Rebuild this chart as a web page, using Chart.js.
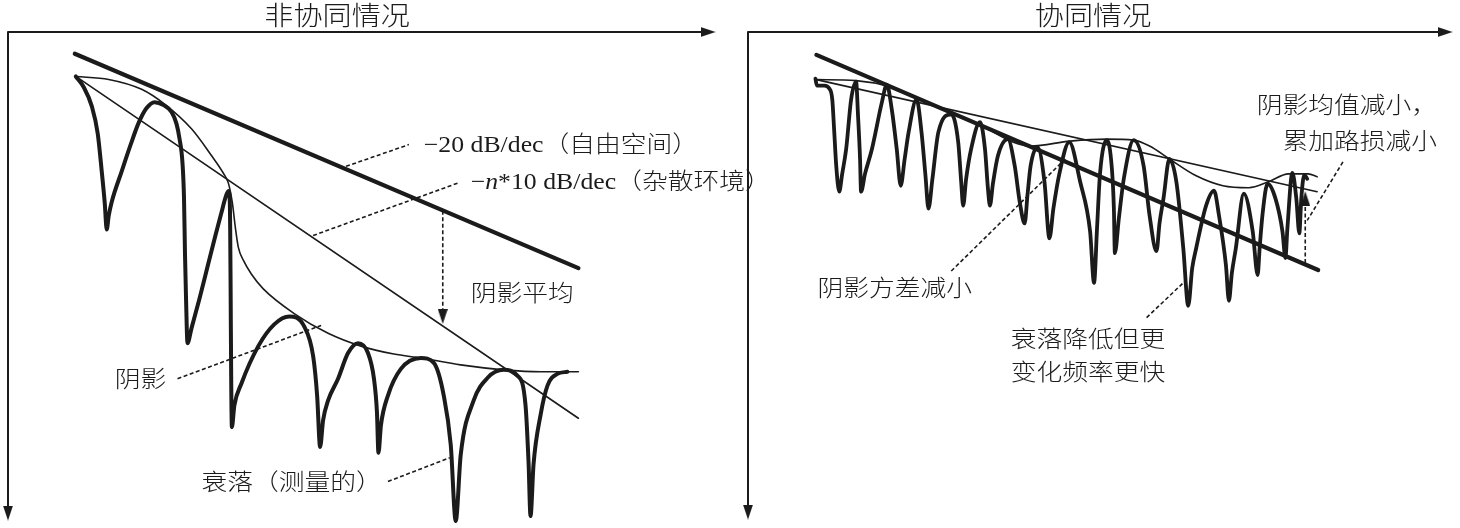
<!DOCTYPE html>
<html>
<head>
<meta charset="utf-8">
<script src="https://cdn.jsdelivr.net/npm/chart.js@4"></script>
<style>
  html, body { margin: 0; background: #fff; }
  #wrap { position: relative; width: 1460px; height: 528px; }
  #wrap canvas { position: absolute; left: 0; top: 0; }
</style>
</head>
<body>
<div id="wrap">
  <canvas id="left" width="1460" height="528"></canvas>
  <canvas id="right" width="1460" height="528"></canvas>
</div>
<script>
// Path loss sketch: x = log distance, y = path loss (grows downward). Arbitrary units.

// ---- left panel: 非协同情况 ----
const leftAxisX = [[0, 0], [702, 0]];
const leftAxisY = [[0, 0], [0, 487]];
const leftFreeSpace = [[67, 22], [572, 239]];          // -20 dB/dec
const leftClutter = [[68, 45], [572, 391]];            // -n*10 dB/dec
const leftShadow = [[68, 45], [101, 48], [134, 58], [157, 73], [184, 98], [204, 125], [216, 143], [221, 153],
  [225, 173], [228, 198], [231, 218], [236, 231], [244, 245], [256, 260], [287, 285], [321, 305], [354, 318],
  [387, 326], [414, 330], [454, 337], [497, 342], [534, 344], [572, 344]];
const leftFading = [[68, 45], [76, 56], [84, 75], [90, 103], [94, 141], [97, 173], [99, 200],
  [101, 186], [104, 172], [114, 141], [123, 114], [131, 92], [139, 77], [147, 71], [156, 74], [164, 81], [169, 93],
  [172, 108], [175, 133], [176.5, 168], [177.5, 225], [178.5, 268], [180, 315],
  [184, 300], [192, 270], [200, 238], [208, 206], [214, 183], [218, 168], [221, 161], [222.3, 168], [222.8, 198],
  [223.3, 268], [223.8, 348], [224.5, 400],
  [227, 378], [234, 356], [251, 318], [267, 296], [282, 288], [297, 298], [306, 328], [310, 368], [313, 420],
  [316, 393], [321, 373], [331, 351], [341, 325], [351, 315], [361, 325], [367, 351], [370, 385], [371.5, 426],
  [374, 398], [381, 368], [394, 341], [414, 330], [427, 335], [437, 368], [444, 418], [449, 495],
  [454, 428], [467, 373], [481, 350], [497, 342], [511, 348], [519, 378], [522, 435], [524, 490],
  [527, 438], [534, 388], [541, 358], [551, 346], [561, 344]];
const leftLeaders = [
  [[339, 136], [402, 114]],
  [[306, 206], [451, 153]],
  [[170, 351], [314, 297]],
  [[381, 455], [443, 431]]
];
const leftMeanArrow = [[436, 181], [436, 288]];

// ---- right panel: 协同情况 ----
const rightAxisX = [[0, 0], [703, 0]];
const rightAxisY = [[0, 0], [0, 484]];
const rightTrend = [[69, 23], [575, 240]];
const rightMeanLine = [[69, 48], [574, 161]];
const rightShadow = [[69, 48], [109, 49], [142, 55], [182, 71], [232, 93], [285, 115], [325, 110], [362, 108],
  [389, 109], [405, 115], [425, 128], [452, 145], [479, 155], [505, 157], [525, 151], [545, 143], [565, 143], [574, 146]];
const rightFading = [[68, 47], [69.5, 54], [77, 54], [82, 57], [85, 68], [87, 101], [89, 135], [92, 161],
  [95, 143], [99, 118], [104, 68], [109, 50], [111, 85], [113, 128], [114, 161],
  [118, 143], [125, 118], [135, 71], [140, 53], [145, 78], [150, 118], [154, 155],
  [158, 128], [162, 101], [170, 68], [175, 101], [179, 145], [182, 178],
  [186, 148], [192, 101], [205, 83], [212, 111], [215, 151], [217, 175],
  [220, 148], [225, 118], [234, 91], [239, 118], [242, 158], [244, 175],
  [247, 153], [252, 125], [262, 108], [269, 135], [274, 171], [279, 193],
  [282, 163], [285, 135], [292, 116], [299, 151], [304, 208],
  [308, 178], [314, 143], [324, 111], [335, 151], [345, 201], [349, 253],
  [352, 198], [355, 143], [362, 109], [367, 138], [369, 178], [370, 223],
  [374, 188], [379, 148], [389, 109], [399, 135], [405, 185], [412, 221],
  [415, 193], [419, 168], [425, 128], [432, 151], [439, 218], [444, 276],
  [448, 238], [452, 218], [462, 175], [470, 160], [475, 185], [482, 235], [485, 271],
  [488, 243], [492, 218], [500, 163], [509, 201], [514, 245],
  [516, 218], [519, 183], [524, 153], [532, 168], [539, 201], [542, 228],
  [544, 198], [549, 142], [553, 168], [556, 203], [558, 168], [561, 144], [564, 148]];
const rightLeaders = [
  [[205, 241], [320, 128]],
  [[402, 288], [442, 250]],
  [[600, 131], [564, 190]]
];
const rightMeanArrow = [[562, 233], [562, 168]];

// ---- texts ----
const leftTitle = { text: [['非协同情况', '']], x: 330, y: -17 };
const rightTitle = { text: [['协同情况', '']], x: 348, y: -17 };
const leftTexts = [
  { text: [['−20 dB/dec（自由空间）', '']], x: 417, y: 115 },
  { text: [['−', ''], ['n', 'italic'], ['*10 dB/dec（杂散环境）', '']], x: 464, y: 153 },
  { text: [['阴影平均', '']], x: 464, y: 266 },
  { text: [['阴影', '']], x: 107, y: 353 },
  { text: [['衰落（测量的）', '']], x: 194, y: 458 }
];
const rightTexts = [
  { text: [['阴影均值减小，', '']], x: 695, y: 76, align: 'right' },
  { text: [['累加路损减小', '']], x: 695, y: 112, align: 'right' },
  { text: [['阴影方差减小', '']], x: 70, y: 260 },
  { text: [['衰落降低但更', '']], x: 265, y: 311 },
  { text: [['变化频率更快', '']], x: 265, y: 345 }
];

const INK = '#1b1b1b';
const SX = 1.12; // the source lettering is a little wide

function arrowHead() {
  const c = document.createElement('canvas');
  c.width = 10; c.height = 15;
  const g = c.getContext('2d');
  g.fillStyle = INK;
  g.beginPath(); g.moveTo(5, 0); g.lineTo(10, 15); g.lineTo(0, 15); g.closePath(); g.fill();
  return c;
}
const ARROW = arrowHead();

function line(data, width, extra) {
  return Object.assign({
    data, borderColor: INK, borderWidth: width, pointRadius: 0, fill: false, clip: false,
    borderCapStyle: 'round', borderJoinStyle: 'round'
  }, extra || {});
}
function curve(data, width) { return line(data, width, { cubicInterpolationMode: 'monotone' }); }
function dashed(data) { return line(data, 1.6, { borderDash: [4, 2.5], borderCapStyle: 'butt' }); }
function arrow(data, width, rot, dash) {
  return line(data, width, {
    borderDash: dash ? [4, 2.5] : [], borderCapStyle: 'butt',
    pointRadius: [0, 6], pointStyle: ARROW, pointRotation: rot
  });
}

function textPlugin(title, items) {
  return {
    id: 'sketchText',
    afterDatasetsDraw(chart) {
      const { ctx, scales: { x, y } } = chart;
      const draw = (it, size, family) => {
        const font = st => `${st} 300 ${size}px ${family}`;
        const px = x.getPixelForValue(it.x), py = y.getPixelForValue(it.y);
        const align = it.align || 'left';
        ctx.save();
        ctx.fillStyle = INK;
        ctx.textBaseline = 'middle';
        let w = 0;
        it.text.forEach(([t, st]) => { ctx.font = font(st); w += ctx.measureText(t).width; });
        ctx.translate(px, py);
        ctx.scale(SX, 1);
        let cx = align === 'center' ? -w / 2 : align === 'right' ? -w : 0;
        it.text.forEach(([t, st]) => { ctx.font = font(st); ctx.fillText(t, cx, 0); cx += ctx.measureText(t).width; });
        ctx.restore();
      };
      draw(Object.assign({ align: 'center' }, title), 26, '"Noto Sans CJK SC", sans-serif');
      items.forEach(it => draw(it, 23, '"Liberation Serif", "Noto Sans CJK SC", serif'));
    }
  };
}

function makeChart(id, datasets, xMax, yMax, padding, title, texts) {
  return new Chart(document.getElementById(id), {
    type: 'line',
    data: { datasets },
    options: {
      responsive: false, animation: false, events: [],
      layout: { padding },
      plugins: { legend: { display: false }, tooltip: { enabled: false } },
      scales: {
        x: { type: 'linear', min: 0, max: xMax, display: false },
        y: { type: 'linear', min: 0, max: yMax, reverse: true, display: false }
      }
    },
    plugins: [textPlugin(title, texts)]
  });
}

makeChart('left', [
  arrow(leftAxisX, 2, 90),
  arrow(leftAxisY, 2, 180),
  line(leftFreeSpace, 4.2),
  line(leftClutter, 1.6),
  curve(leftShadow, 1.6),
  curve(leftFading, 4),
  ...leftLeaders.map(dashed),
  arrow(leftMeanArrow, 1.6, 180, true)
], 709, 494, { left: 6, top: 32, right: 745, bottom: 2 }, leftTitle, leftTexts);

makeChart('right', [
  arrow(rightAxisX, 2, 90),
  arrow(rightAxisY, 2, 180),
  line(rightTrend, 4.2),
  line(rightMeanLine, 1.6),
  curve(rightShadow, 1.6),
  curve(rightFading, 3.8),
  ...rightLeaders.map(dashed),
  arrow(rightMeanArrow, 1.6, 0, true)
], 710, 492, { left: 748, top: 32, right: 2, bottom: 4 }, rightTitle, rightTexts);
</script>
</body>
</html>
